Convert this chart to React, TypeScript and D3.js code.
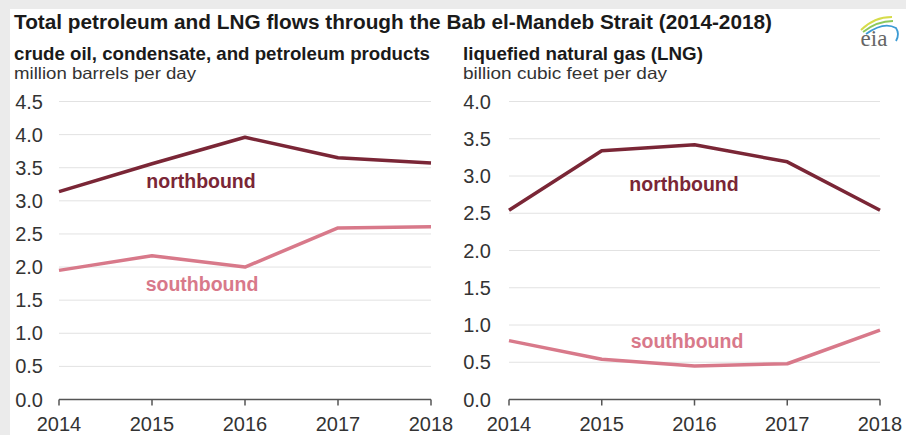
import React, { useEffect, useRef } from 'react';
import * as d3 from 'd3';

const years = [2014, 2015, 2016, 2017, 2018];

const oilNorth = [3.14, 3.56, 3.96, 3.65, 3.57];
const oilSouth = [1.95, 2.17, 2.0, 2.59, 2.61];
const oilTicks = [0, 0.5, 1, 1.5, 2, 2.5, 3, 3.5, 4, 4.5];

const lngNorth = [2.54, 3.34, 3.42, 3.19, 2.54];
const lngSouth = [0.79, 0.54, 0.45, 0.48, 0.93];
const lngTicks = [0, 0.5, 1, 1.5, 2, 2.5, 3, 3.5, 4];

const NORTH = '#7a2636';
const SOUTH = '#d8798a';

const W = 906;
const H = 435;

interface Panel {
  left: number;
  right: number;
  labelX: number;
  max: number;
  ticks: number[];
  north: number[];
  south: number[];
  northLabel: [number, number];
  southLabel: [number, number];
  heading: string;
  headLen: number;
  unit: string;
  unitLen: number;
  headX: number;
}

const panels: Panel[] = [
  {
    left: 59, right: 431, labelX: 43, max: 4.5, ticks: oilTicks,
    north: oilNorth, south: oilSouth,
    northLabel: [201, 181], southLabel: [202, 284],
    heading: 'crude oil, condensate, and petroleum products', headLen: 416,
    unit: 'million barrels per day', unitLen: 182, headX: 14,
  },
  {
    left: 509, right: 880, labelX: 491, max: 4.0, ticks: lngTicks,
    north: lngNorth, south: lngSouth,
    northLabel: [684, 184], southLabel: [687, 341],
    heading: 'liquefied natural gas (LNG)', headLen: 240,
    unit: 'billion cubic feet per day', unitLen: 204, headX: 463,
  },
];

export default function App() {
  const svgRef = useRef<SVGSVGElement>(null);

  useEffect(() => {
    if (!svgRef.current) return;
    const svg = d3.select(svgRef.current);
    svg.selectAll('*').remove();

    const font = 'Arial, "Liberation Sans", sans-serif';
    const top = 101.5;
    const bottom = 399.5;

    // frame
    svg.append('rect').attr('width', W).attr('height', H).attr('fill', '#fff');
    svg.append('rect').attr('width', W).attr('height', 9).attr('fill', '#ebebeb');
    svg.append('rect').attr('width', 10).attr('height', H).attr('fill', '#ebebeb');

    svg.append('text')
      .attr('x', 14).attr('y', 29)
      .attr('font-family', font).attr('font-weight', 'bold').attr('font-size', 20)
      .attr('fill', '#1a1a1a')
      .attr('textLength', 758).attr('lengthAdjust', 'spacingAndGlyphs')
      .text('Total petroleum and LNG flows through the Bab el-Mandeb Strait (2014-2018)');

    // eia logo
    const logo = svg.append('g');
    const arcs = [
      { d: 'M861,30 Q874,17 892,17', c: '#d6dc4a' },
      { d: 'M863,32 Q877,21 893,21', c: '#8cc85c' },
      { d: 'M866,34 Q884,21 896,28 Q900,34 896,41', c: '#3d9bd4' },
    ];
    arcs.forEach(a => logo.append('path').attr('d', a.d).attr('fill', 'none').attr('stroke', a.c).attr('stroke-width', 1.8));
    logo.append('text')
      .attr('x', 874).attr('y', 46).attr('text-anchor', 'middle')
      .attr('font-family', '"Liberation Serif", "DejaVu Serif", serif').attr('font-size', 23)
      .attr('fill', '#666').text('eia');

    panels.forEach(p => {
      const x = d3.scalePoint<number>().domain(years).range([p.left, p.right]);
      const y = d3.scaleLinear().domain([0, p.max]).range([bottom, top]);
      const g = svg.append('g');

      g.append('text')
        .attr('x', p.headX).attr('y', 60)
        .attr('font-family', font).attr('font-weight', 'bold').attr('font-size', 19)
        .attr('fill', '#1a1a1a')
        .attr('textLength', p.headLen).attr('lengthAdjust', 'spacingAndGlyphs')
        .text(p.heading);
      g.append('text')
        .attr('x', p.headX).attr('y', 79)
        .attr('font-family', font).attr('font-size', 16.5)
        .attr('fill', '#333')
        .attr('textLength', p.unitLen).attr('lengthAdjust', 'spacingAndGlyphs')
        .text(p.unit);

      // grid
      g.selectAll('line.grid')
        .data(p.ticks.filter(t => t > 0))
        .join('line')
        .attr('x1', p.left).attr('x2', p.right)
        .attr('y1', d => y(d)).attr('y2', d => y(d))
        .attr('stroke', '#e2e2e2').attr('stroke-width', 1);

      g.selectAll('text.ytick')
        .data(p.ticks)
        .join('text')
        .attr('x', p.labelX).attr('y', d => y(d) + 7)
        .attr('text-anchor', 'end')
        .attr('font-family', font).attr('font-size', 20)
        .attr('fill', '#333')
        .text(d => d.toFixed(1));

      // x axis
      g.append('line')
        .attr('x1', p.left).attr('x2', p.right)
        .attr('y1', bottom).attr('y2', bottom)
        .attr('stroke', '#555').attr('stroke-width', 1.5);
      g.selectAll('line.xtick')
        .data(years)
        .join('line')
        .attr('x1', d => x(d)!).attr('x2', d => x(d)!)
        .attr('y1', bottom).attr('y2', bottom + 6)
        .attr('stroke', '#555').attr('stroke-width', 1.5);
      g.selectAll('text.xtick')
        .data(years)
        .join('text')
        .attr('x', d => x(d)!).attr('y', bottom + 31)
        .attr('text-anchor', 'middle')
        .attr('font-family', font).attr('font-size', 20)
        .attr('fill', '#333')
        .text(d => String(d));

      const line = d3.line<number>()
        .x((_, i) => x(years[i])!)
        .y(d => y(d));

      g.append('path').datum(p.south)
        .attr('fill', 'none').attr('stroke', SOUTH).attr('stroke-width', 3.5)
        .attr('stroke-linejoin', 'round').attr('d', line);
      g.append('path').datum(p.north)
        .attr('fill', 'none').attr('stroke', NORTH).attr('stroke-width', 3.5)
        .attr('stroke-linejoin', 'round').attr('d', line);

      g.append('text')
        .attr('x', p.northLabel[0]).attr('y', p.northLabel[1] + 7)
        .attr('text-anchor', 'middle')
        .attr('font-family', font).attr('font-weight', 'bold').attr('font-size', 19.5)
        .attr('fill', NORTH).text('northbound');
      g.append('text')
        .attr('x', p.southLabel[0]).attr('y', p.southLabel[1] + 7)
        .attr('text-anchor', 'middle')
        .attr('font-family', font).attr('font-weight', 'bold').attr('font-size', 19.5)
        .attr('fill', SOUTH).text('southbound');
    });
  }, []);

  return (
    <svg
      ref={svgRef}
      width={W}
      height={H}
      viewBox={`0 0 ${W} ${H}`}
      style={{ position: 'absolute', left: 0, top: 0, display: 'block' }}
    />
  );
}
